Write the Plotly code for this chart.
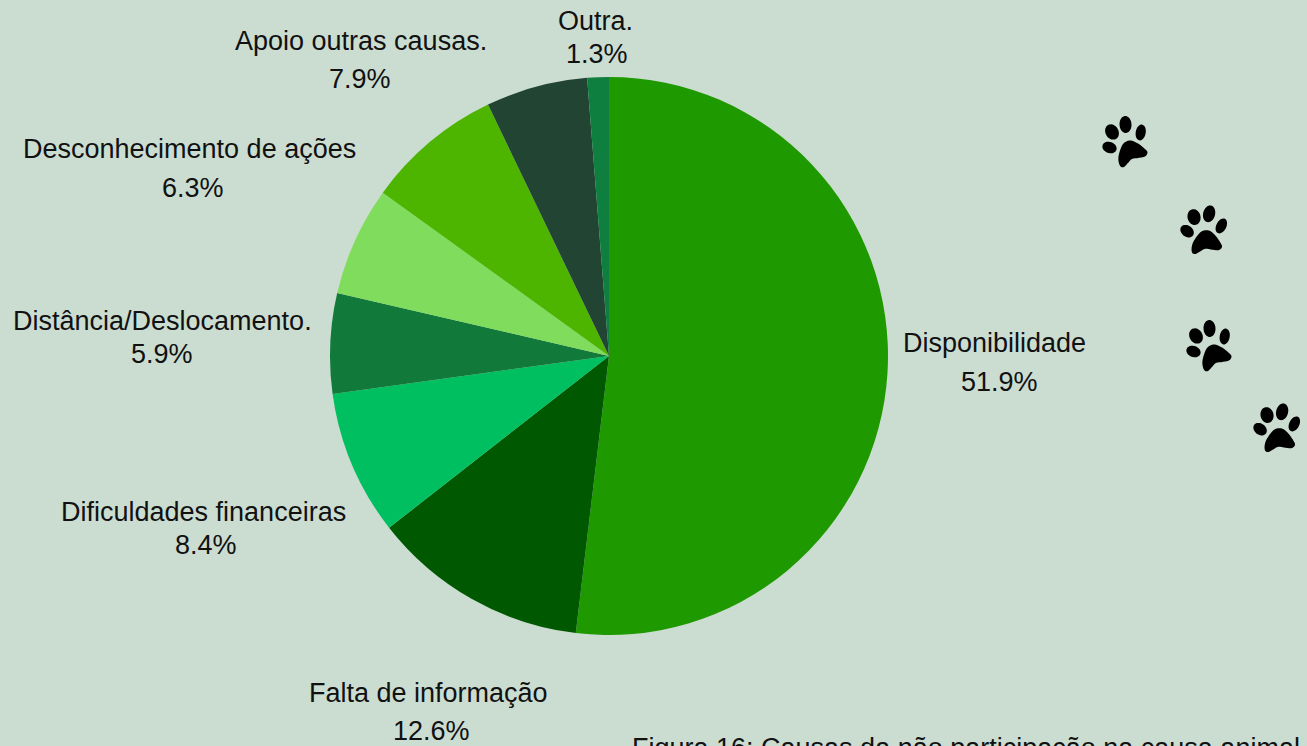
import math
import plotly.graph_objects as go

W, H = 1307, 746
categories = ["Disponibilidade", "Falta de informação", "Dificuldades financeiras",
              "Distância/Deslocamento.", "Desconhecimento de ações",
              "Apoio outras causas.", "", "Outra."]
values = [51.9, 12.55, 8.38, 5.79, 6.33, 7.91, 5.89, 1.25]
value_labels = ["51.9%", "12.6%", "8.4%", "5.9%", "6.3%", "7.9%", "", "1.3%"]
colors = ["#1F9900", "#005900", "#00BF60", "#117A3A", "#80DC5C", "#4DB500", "#224433", "#0F7F3F"]
caption = "Figura 16: Causas da não participação na causa animal"
bg = "#CBDDD1"
ink = "#111111"

cx, cy, r = 609, 356, 279
name_xy = [(994, 343), (428, 693), (204, 512), (162, 321), (189, 149), (361, 41), None, (595, 21)]
pct_xy = [(999, 382), (431, 731), (206, 545), (162, 354), (193, 188), (360, 79), None, (597, 54)]
paw_xy = [(1132, 153, 0), (1207, 243, 17), (1216, 357, 0), (1280, 441, 17)]

def px(x, y):
    return f"{x / W:.5f},{1 - y / H:.5f}"

def paw_path(ox, oy, deg):
    a = math.radians(deg)
    ca, sa = math.cos(a), math.sin(a)
    def rot(x, y):
        return ox + x * ca - y * sa, oy + x * sa + y * ca
    toes = [(-20, -21, 6.5, 8, -30), (-6.5, -28.5, 6, 8.5, -3), (8.7, -20.5, 5, 8, 10), (-22.5, -5.5, 7.3, 5.6, 20)]
    parts = []
    for tx, ty, rx, ry, t in toes:
        b = math.radians(t)
        pts = []
        for i in range(36):
            u = 2 * math.pi * i / 36
            x0, y0 = rx * math.cos(u), ry * math.sin(u)
            pts.append(rot(tx + x0 * math.cos(b) - y0 * math.sin(b), ty + x0 * math.sin(b) + y0 * math.cos(b)))
        parts.append("M" + "L".join(px(*p) for p in pts) + "Z")
    pad = [(-2, -12.5), (6, -9.5), (13, -4), (15.5, -0.5), (13, 3.5), (6, 5), (0, 6), (-4, 10), (-8, 14), (-11.5, 13.5), (-13.5, 8), (-13, 1), (-9, -9)]
    n = len(pad)
    pts = []
    for i in range(n):
        p0, p1, p2, p3 = pad[i - 1], pad[i], pad[(i + 1) % n], pad[(i + 2) % n]
        for k in range(8):
            s = k / 8
            f = lambda a0, a1, a2, a3: 0.5 * (2 * a1 + (a2 - a0) * s + (2 * a0 - 5 * a1 + 4 * a2 - a3) * s * s + (3 * a1 - a0 - 3 * a2 + a3) * s ** 3)
            pts.append(rot(f(p0[0], p1[0], p2[0], p3[0]), f(p0[1], p1[1], p2[1], p3[1])))
    parts.append("M" + "L".join(px(*p) for p in pts) + "Z")
    return "".join(parts)

fig = go.Figure(go.Pie(
    labels=[c or "Sem rótulo" for c in categories], values=values, sort=False,
    direction="clockwise", rotation=0, textinfo="none", hoverinfo="label+percent",
    marker=dict(colors=colors, line=dict(width=0)),
    domain=dict(x=[(cx - r) / W, (cx + r) / W], y=[1 - (cy + r) / H, 1 - (cy - r) / H]),
    showlegend=False,
))

def note(text, x, y, anchor="center"):
    return dict(text=text, x=x / W, y=1 - y / H, xref="paper", yref="paper", xanchor=anchor,
                yanchor="middle", showarrow=False, font=dict(family="Liberation Sans", size=27, color=ink))

notes = []
for c, v, a, b in zip(categories, value_labels, name_xy, pct_xy):
    if a:
        notes.append(note(c, *a))
        notes.append(note(v, *b))
notes.append(note(caption, 630, 748, "left"))

fig.update_layout(
    width=W, height=H, margin=dict(l=0, r=0, t=0, b=0), paper_bgcolor=bg, plot_bgcolor=bg,
    annotations=notes,
    shapes=[dict(type="path", xref="paper", yref="paper", path=paw_path(*p),
                 fillcolor="#000000", line=dict(width=0)) for p in paw_xy],
)
fig.write_html("out.html", config=dict(displayModeBar=False),
               post_script="document.body.style.margin='0';document.body.style.overflow='hidden';")
